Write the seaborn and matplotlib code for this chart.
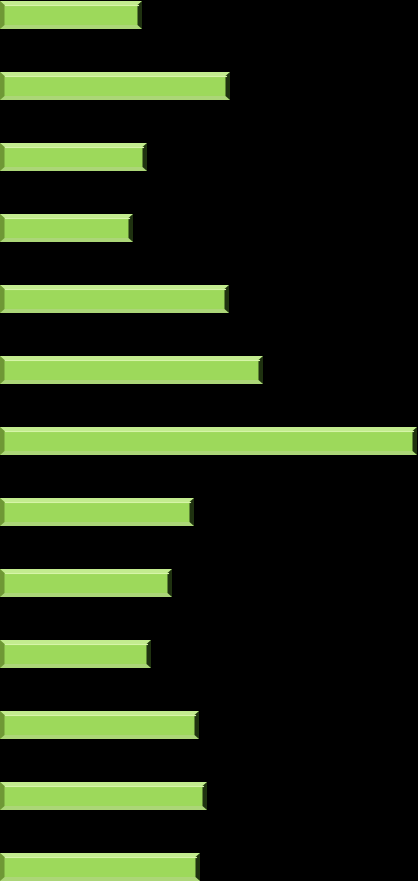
import numpy as np
import pandas as pd
import matplotlib
matplotlib.use("Agg")
import matplotlib.pyplot as plt
from matplotlib.patches import Polygon
import seaborn as sns

# bar lengths (left to right, top to bottom)
categories = ["A", "B", "C", "D", "E", "F", "G", "H", "I", "J", "K", "L", "M"]
values = [142, 230, 147, 133, 229, 263, 417, 194, 172, 151, 199, 207, 200]

fill_col = "#9dd95b"
top_col = "#c3ec8f"
left_col = "#6f9836"
right_col = "#1f3210"
bottom_col = "#acd678"

df = pd.DataFrame({"cat": categories, "val": values})

fig = plt.figure(figsize=(4.18, 8.81), dpi=100, facecolor="black")
ax = fig.add_axes([0, 0, 1, 1])
ax.set_facecolor("black")

sns.barplot(data=df, y="cat", x="val", orient="h", color=fill_col,
            width=0.394, saturation=1, ax=ax, linewidth=0)

ax.set_xlim(0, 418)
ax.set_ylim(12.197, -0.211)

# bevel edges, built from each bar's own box
bx = 4.5          # x bevel, data units (~px)
by = 4.0 / 71     # y bevel, data units
for p in ax.patches:
    x0, y0 = p.get_x(), p.get_y()
    x1, y1 = x0 + p.get_width(), y0 + p.get_height()
    # note: y axis inverted, y0 is the top edge on screen
    top = Polygon([(x0, y0), (x1, y0), (x1 - bx, y0 + by), (x0 + bx, y0 + by)],
                  closed=True, fc=top_col, ec="none")
    bot = Polygon([(x0, y1), (x1, y1), (x1 - bx, y1 - by), (x0 + bx, y1 - by)],
                  closed=True, fc=bottom_col, ec="none")
    lft = Polygon([(x0, y0), (x0 + bx, y0 + by), (x0 + bx, y1 - by), (x0, y1)],
                  closed=True, fc=left_col, ec="none")
    rgt = Polygon([(x1, y0), (x1 - bx, y0 + by), (x1 - bx, y1 - by), (x1, y1)],
                  closed=True, fc=right_col, ec="none")
    for poly in (top, bot, lft, rgt):
        ax.add_patch(poly)
    # thin highlight line under the top bevel
    ax.plot([x0 + bx, x1 - bx], [y0 + by, y0 + by], color="#d6f5a8", lw=0.8)

ax.axis("off")
fig.savefig("out.png", dpi=100, facecolor="black")
